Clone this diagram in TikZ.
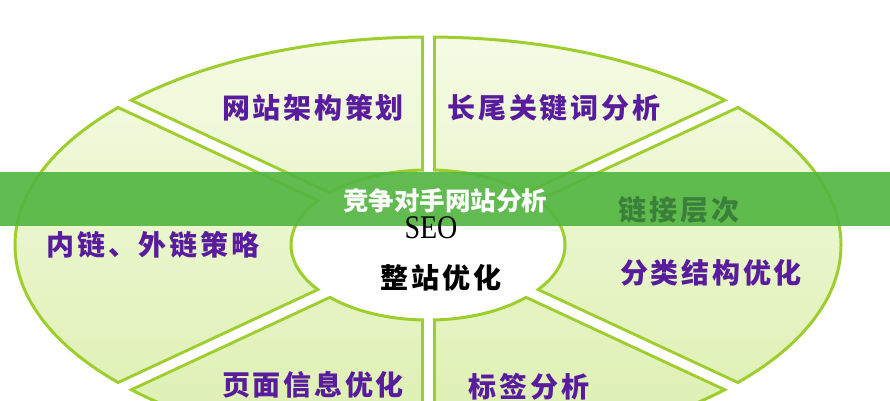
\documentclass[tikz,border=0pt]{standalone}
\usepackage{fontspec}
\setmainfont{Liberation Serif}
\newfontfamily\cjk{Noto Sans CJK SC}
\newfontfamily\cjksp{Noto Sans CJK SC}[LetterSpace=10]
\definecolor{segline}{RGB}{158,206,45}
\definecolor{segtop}{RGB}{245,251,228}
\definecolor{segbot}{RGB}{220,239,175}
\definecolor{purp}{RGB}{88,28,156}
\definecolor{bannergreen}{RGB}{84,182,66}
\definecolor{darkgr}{RGB}{58,128,58}
\begin{document}
\begin{tikzpicture}[x=1pt,y=-1pt,
  lab/.style={font=\cjksp\bfseries\fontsize{28}{28}\selectfont, text=purp, inner sep=0pt},
  ctr/.style={font=\cjksp\bfseries\fontsize{28}{28}\selectfont, text=black, inner sep=0pt},
  bantext/.style={font=\cjk\bfseries\fontsize{25.5}{25.5}\selectfont, text=white, inner sep=0pt},
  greenray/.style={segline, line width=15pt},
  whiteray/.style={white, line width=9pt}]
\useasboundingbox (0,0) rectangle (890,400);
\coordinate (c) at (428,245);
\coordinate (r1) at (428,-60);
\coordinate (r2) at (428,560);
\coordinate (r3) at (-178,-37);
\coordinate (r4) at (1034,-37);
\coordinate (r5) at (-178,527);
\coordinate (r6) at (1034,527);
% ring fill
\path[top color=segtop, bottom color=segbot] (c) ellipse [x radius=413, y radius=208];
\begin{scope}
  \clip (c) ellipse [x radius=413, y radius=208];
  \foreach \r in {r1,r2,r3,r4,r5,r6} \draw[greenray] (c) -- (\r);
\end{scope}
\draw[segline, line width=3pt] (c) ellipse [x radius=413, y radius=208];
\draw[segline, line width=3pt, fill=white] (c) ellipse [x radius=137, y radius=75];
\foreach \r in {r1,r2,r3,r4,r5,r6} \draw[whiteray] (c) -- (\r);
% labels
\node[lab] (t1) at (313,108) {网站架构策划};
\node[lab] (t2) at (554,108) {长尾关键词分析};
\node[lab] (t3) at (153,245) {内链、外链策略};
\node[lab] (t5) at (711,273) {分类结构优化};
\node[lab] (t6) at (313,385) {页面信息优化};
\node[lab] (t7) at (529,387) {标签分析};
\node[ctr] (z) at (441,278) {整站优化};
% banner
\fill[bannergreen, opacity=0.92] (0,172) rectangle (890,226);
\node[font=\fontsize{33}{33}\selectfont, xscale=0.85, inner sep=0pt] (seo) at (431,228) {SEO};
\node[lab, text=darkgr] (t4) at (679,210) {链接层次};
\node[bantext] (ban) at (445,201) {竞争对手网站分析};
\end{tikzpicture}
\end{document}
